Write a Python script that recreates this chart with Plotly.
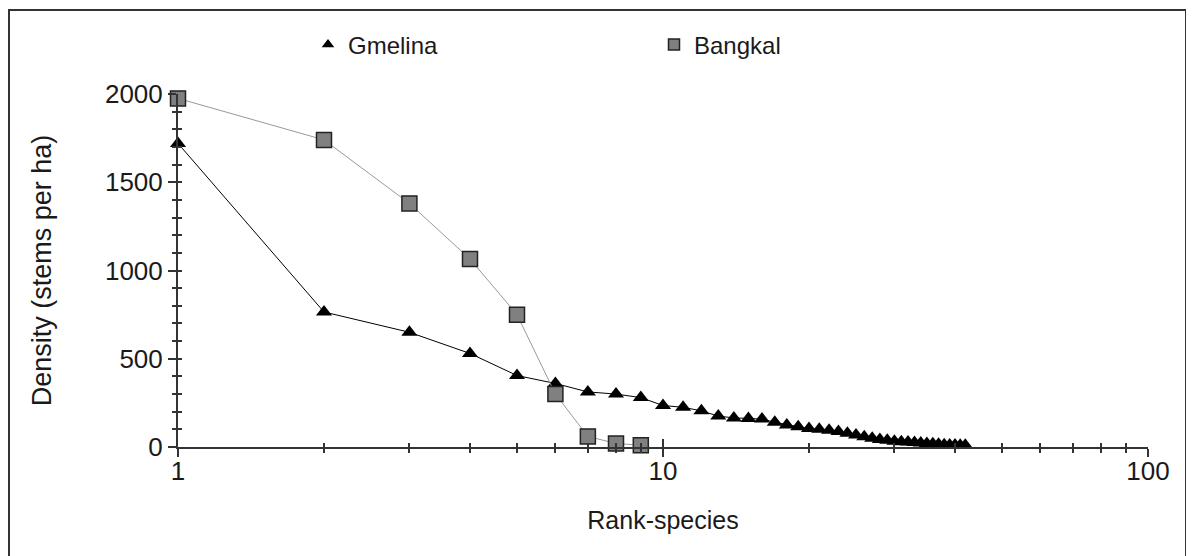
import plotly.graph_objects as go

# ---- data ----
gmelina_rank = list(range(1, 43))
gmelina_density = [1720, 765, 650, 530, 405, 360, 312, 300, 280, 235,
                   225, 205, 175, 165, 162, 158, 140, 125, 115, 105,
                   100, 95, 88, 78, 68, 58, 50, 42, 38, 33,
                   30, 28, 25, 22, 20, 18, 15, 13, 12, 12, 10, 10]

bangkal_rank = list(range(1, 10))
bangkal_density = [1975, 1740, 1380, 1065, 750, 300, 60, 20, 10]

x_tick_vals = [1, 10, 100]
x_tick_text = ["1", "10", "100"]
x_minor_vals = [2, 3, 4, 5, 6, 7, 8, 9, 20, 30, 40, 50, 60, 70, 80, 90]
y_tick_vals = [0, 500, 1000, 1500, 2000]

FONT = "Liberation Sans"
AX = "#333333"
TXT = "#1a1a1a"

fig = go.Figure()

# data traces
fig.add_trace(go.Scatter(
    x=gmelina_rank, y=gmelina_density, name="Gmelina", showlegend=False,
    mode="lines+markers", cliponaxis=False,
    line=dict(color="black", width=1),
    marker=dict(symbol="triangle-up", size=14, color="black",
                line=dict(color="black", width=0)),
))
fig.add_trace(go.Scatter(
    x=bangkal_rank, y=bangkal_density, name="Bangkal", showlegend=False,
    mode="lines+markers", cliponaxis=False,
    line=dict(color="#999999", width=1),
    marker=dict(symbol="square", size=15, color="#808080",
                line=dict(color="#222222", width=1.5)),
))

# legend entries (marker only, as in the reference)
fig.add_trace(go.Scatter(
    x=[None], y=[None], name="Gmelina", mode="markers",
    marker=dict(symbol="triangle-up", size=11, color="black"),
))
fig.add_trace(go.Scatter(
    x=[None], y=[None], name="Bangkal", mode="markers",
    marker=dict(symbol="square", size=11, color="#808080",
                line=dict(color="#222222", width=1.5)),
))

# empty trace so the overlaid tick-only axes are drawn
fig.add_trace(go.Scatter(x=[None], y=[None], xaxis="x2", yaxis="y2",
                         showlegend=False, hoverinfo="skip"))

# page has an 8px body margin: figure coordinates = page coordinates - 8
W, H = 1186, 548
L, R, T, B = 170, 46, 86, 109
pw = W - L - R
ph = H - T - B

fig.update_layout(
    width=W, height=H,
    margin=dict(l=L, r=R, t=T, b=B, autoexpand=False),
    paper_bgcolor="white", plot_bgcolor="white",
    font=dict(family=FONT, size=26, color=TXT),
    showlegend=True,
    legend=dict(orientation="h", x=(320 - 20 - L) / pw, xanchor="left",
                y=1 + (T - 37) / ph, yanchor="middle",
                font=dict(size=24, color=TXT), entrywidth=301,
                entrywidthmode="pixels", itemsizing="trace",
                bgcolor="rgba(0,0,0,0)"),
    xaxis=dict(type="log", range=[0, 2], showgrid=False, zeroline=False,
               automargin=False,
               showline=True, linecolor=AX, linewidth=2,
               tickmode="array", tickvals=x_tick_vals, ticktext=x_tick_text,
               ticks="outside", ticklen=8, tickwidth=2, tickcolor=AX,
               ticklabelstandoff=-8,
               minor=dict(tickmode="array", tickvals=x_minor_vals,
                          ticks="outside", ticklen=4, tickwidth=2,
                          tickcolor=AX, showgrid=False),
               title=dict(text="Rank-species", standoff=26,
                          font=dict(size=25, color=TXT))),
    yaxis=dict(range=[0, 2000], showgrid=False, zeroline=False,
               automargin=False,
               showline=True, linecolor=AX, linewidth=2,
               tickmode="array", tickvals=y_tick_vals,
               ticks="outside", ticklen=8, tickwidth=2, tickcolor=AX,
               minor=dict(dtick=100, ticks="outside", ticklen=4,
                          tickwidth=2, tickcolor=AX, showgrid=False),
               title=dict(text="Density (stems per ha)", standoff=46,
                          font=dict(size=27, color=TXT))),
    xaxis2=dict(type="log", range=[0, 2], overlaying="x", anchor="y",
                automargin=False,
                showgrid=False, zeroline=False, showline=False,
                showticklabels=False, tickmode="array", tickvals=x_tick_vals,
                ticks="inside", ticklen=8, tickwidth=2, tickcolor=AX,
                minor=dict(tickmode="array", tickvals=x_minor_vals,
                           ticks="inside", ticklen=4, tickwidth=2,
                           tickcolor=AX, showgrid=False)),
    yaxis2=dict(range=[0, 2000], overlaying="y", anchor="x",
                automargin=False,
                showgrid=False, zeroline=False, showline=False,
                showticklabels=False, tickmode="array", tickvals=y_tick_vals,
                ticks="inside", ticklen=4, tickwidth=2, tickcolor=AX,
                minor=dict(dtick=100, ticks="inside", ticklen=4,
                           tickwidth=2, tickcolor=AX, showgrid=False)),
)

# outer frame around the whole chart (bottom edge lies below the view)
fig.add_shape(type="rect", xref="paper", yref="paper",
              x0=(1 - L) / pw, x1=(1178 - L) / pw,
              y0=-(B + 20) / ph, y1=1 + (T - 2) / ph,
              line=dict(color=AX, width=2), layer="below")

fig.write_html("out.html")
